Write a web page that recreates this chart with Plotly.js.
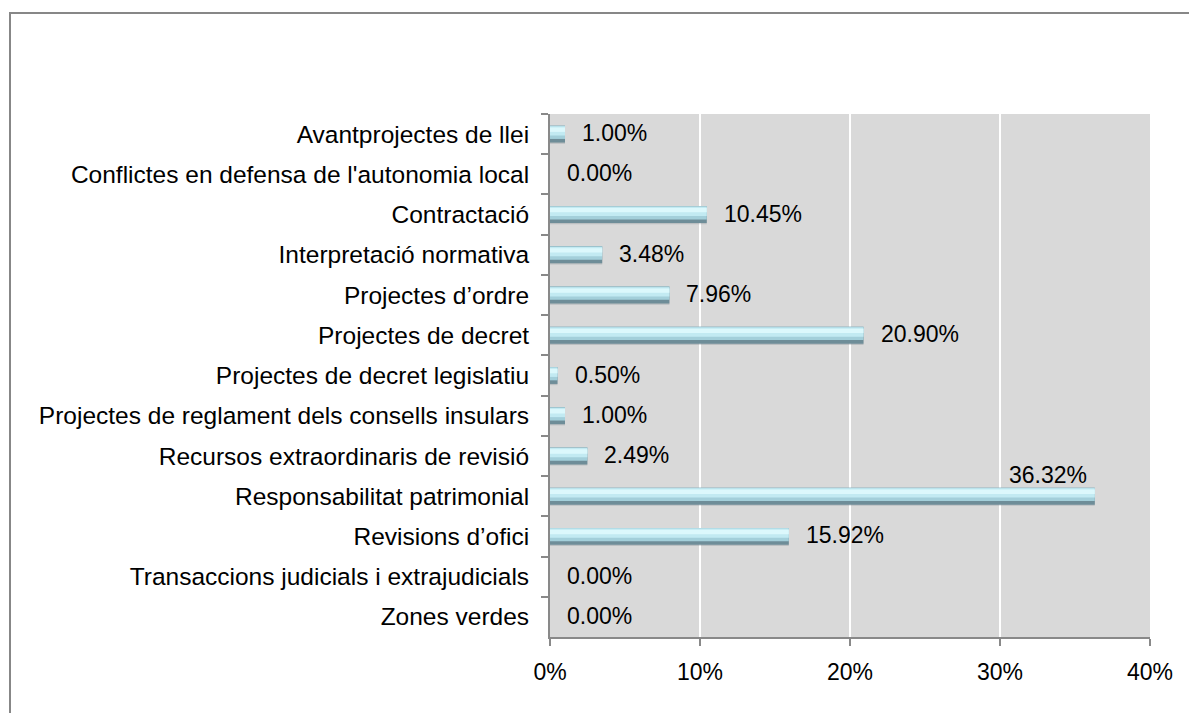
<!DOCTYPE html>
<html>
<head>
<meta charset="utf-8">
<script src="https://cdn.plot.ly/plotly-3.0.1.min.js"></script>
<style>
  html, body { margin: 0; padding: 0; background: #ffffff; }
  #chart { width: 1189px; height: 713px; }
</style>
</head>
<body>
<div id="chart"></div>
<script>
// ---- data ----
const categories = [
  "Avantprojectes de llei",
  "Conflictes en defensa de l'autonomia local",
  "Contractació",
  "Interpretació normativa",
  "Projectes d’ordre",
  "Projectes de decret",
  "Projectes de decret legislatiu",
  "Projectes de reglament dels consells insulars",
  "Recursos extraordinaris de revisió",
  "Responsabilitat patrimonial",
  "Revisions d’ofici",
  "Transaccions judicials i extrajudicials",
  "Zones verdes"
];
const percentages = [1.00, 0.00, 10.45, 3.48, 7.96, 20.90, 0.50, 1.00, 2.49, 36.32, 15.92, 0.00, 0.00];
const xTickValues = [0, 10, 20, 30, 40];
const xTickLabels = ["0%", "10%", "20%", "30%", "40%"];

// ---- layout constants ----
const W = 1189, H = 713;
const L = 550, R = 39, T = 114, B = 76;
const plotW = W - L - R, plotH = H - T - B;
const px2x = px => (px - L) / plotW;
const py2y = py => (H - B - py) / plotH;
const xMax = 40;

const font = "Liberation Sans, Arial, sans-serif";

// Bevel-like bar made from overlaid bars
function barLayer(color, width, offset) {
  return {
    type: "bar", orientation: "h",
    x: percentages, y: categories,
    width: width, offset: offset,
    marker: { color: color, line: { width: 0 } },
    hoverinfo: "skip", showlegend: false
  };
}
const traces = [
  barLayer("rgba(80,100,108,0.22)", 0.42, -0.18),   // soft shadow
  barLayer("#6e8d98", 0.42, -0.21),
  barLayer("#a3cfda", 0.33, -0.21),
  barLayer("#c2eaf2", 0.23, -0.195),
  barLayer("#dcf8fc", 0.11, -0.165)
];

// Data labels placed through the axes
const labelFontSize = 23;
const annotations = percentages.map((v, i) => {
  const txt = v.toFixed(2) + "%";
  const fitsRight = v + 6.6 < xMax;
  return fitsRight ? {
    x: v, y: categories[i], xref: "x", yref: "y",
    text: txt, showarrow: false, xanchor: "left", yanchor: "middle",
    xshift: 15, yshift: 1,
    font: { family: font, size: labelFontSize, color: "#000" }
  } : {
    x: v, y: categories[i], xref: "x", yref: "y",
    text: txt, showarrow: false, xanchor: "right", yanchor: "bottom",
    xshift: -6, yshift: 6,
    font: { family: font, size: labelFontSize, color: "#000" }
  };
});

const layout = {
  width: W, height: H,
  margin: { l: L, r: R, t: T, b: B, pad: 0 },
  paper_bgcolor: "#ffffff",
  plot_bgcolor: "#d9d9d9",
  barmode: "overlay",
  showlegend: false,
  font: { family: font, color: "#000" },
  xaxis: {
    range: [0, xMax],
    tickmode: "array", tickvals: xTickValues, ticktext: xTickLabels,
    showgrid: true, gridcolor: "#ffffff", gridwidth: 1.5,
    zeroline: false,
    showline: true, linecolor: "#898989", linewidth: 2,
    ticks: "outside", ticklen: 7, tickcolor: "#898989", tickwidth: 2,
    ticklabelstandoff: 6,
    tickfont: { family: font, size: 23, color: "#000" },
    fixedrange: true
  },
  yaxis: {
    type: "category",
    categoryorder: "array", categoryarray: categories,
    autorange: "reversed",
    showgrid: false, zeroline: false,
    showline: true, linecolor: "#898989", linewidth: 2,
    ticks: "outside", ticklen: 7, tickcolor: "#898989", tickwidth: 2,
    tickson: "boundaries",
    ticklabelstandoff: 14,
    tickfont: { family: font, size: 24.5, color: "#000" },
    fixedrange: true
  },
  annotations: annotations,
  shapes: [
    { type: "line", xref: "paper", yref: "paper",
      x0: px2x(10), x1: px2x(10), y0: py2y(12), y1: py2y(H + 10),
      line: { color: "#878787", width: 2 } },
    { type: "line", xref: "paper", yref: "paper",
      x0: px2x(9), x1: px2x(W + 10), y0: py2y(13), y1: py2y(13),
      line: { color: "#878787", width: 2 } }
  ]
};

Plotly.newPlot("chart", traces, layout, { staticPlot: true, displayModeBar: false });
</script>
</body>
</html>
